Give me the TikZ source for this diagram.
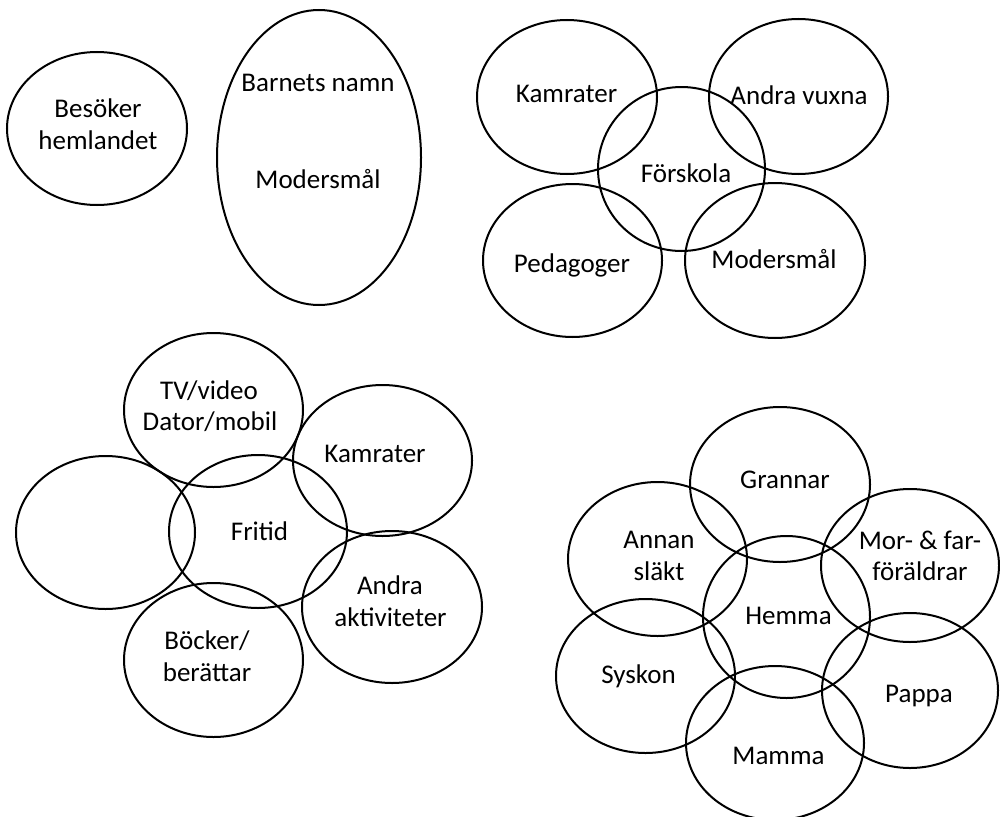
\documentclass[tikz,border=0pt]{standalone}
\usepackage{fontspec}
\setmainfont{Carlito}
\begin{document}
\begin{tikzpicture}[x=1pt,y=-1pt,
  ring/.style={line width=2pt},
  lbl/.style={anchor=base, font=\fontsize{27}{33}\selectfont, inner sep=0pt}]
\useasboundingbox (0,0) rectangle (1000,816);
\clip (0,0) rectangle (1000,816);
% top left
\draw[ring] (97,128.5) ellipse [x radius=90, y radius=76.5];
\draw[ring] (319,157.5) ellipse [x radius=102, y radius=147.5];
\node[lbl] (besoker) at (98,117) {Besöker};
\node[lbl] (hemlandet) at (98,149) {hemlandet};
\node[lbl] (barnets) at (318,91) {Barnets namn};
\node[lbl] (modersmal1) at (318,188) {Modersmål};
% Förskola cluster
\draw[ring] (567,97) ellipse [x radius=90, y radius=77];
\draw[ring] (798.5,96.5) ellipse [x radius=89.5, y radius=77.5];
\draw[ring] (681.5,169) ellipse [x radius=83.5, y radius=82];
\draw[ring] (572.5,260.5) ellipse [x radius=89.5, y radius=76.5];
\draw[ring] (775,260.5) ellipse [x radius=90, y radius=77.5];
\node[lbl] (kamrater1) at (566.5,102) {Kamrater};
\node[lbl] (vuxna) at (799,104) {Andra vuxna};
\node[lbl] (forskola) at (686,182) {Förskola};
\node[lbl] (pedagoger) at (572,272) {Pedagoger};
\node[lbl] (modersmal2) at (774,268) {Modersmål};
% Fritid cluster
\draw[ring] (213.5,410) ellipse [x radius=89.5, y radius=77];
\draw[ring] (382.5,460.5) ellipse [x radius=89.5, y radius=75.5];
\draw[ring] (105.5,532.5) ellipse [x radius=89.5, y radius=76.5];
\draw[ring] (258,531.5) ellipse [x radius=89, y radius=76.5];
\draw[ring] (392,607) ellipse [x radius=90, y radius=76];
\draw[ring] (213.5,660) ellipse [x radius=89.5, y radius=77];
\node[lbl] (tv) at (209,399) {TV/video};
\node[lbl] (dator) at (210,430) {Dator/mobil};
\node[lbl] (kamrater2) at (375,462) {Kamrater};
\node[lbl] (fritid) at (259.5,540) {Fritid};
\node[lbl] (andra) at (390,594) {Andra};
\node[lbl] (aktiviteter) at (390.5,626) {aktiviteter};
\node[lbl] (bocker) at (207,649) {Böcker/};
\node[lbl] (berattar) at (207,681) {berättar};
% Hemma cluster
\draw[ring] (780,484.5) ellipse [x radius=90, y radius=77.5];
\draw[ring] (657.5,559) ellipse [x radius=89.5, y radius=77];
\draw[ring] (910,565.5) ellipse [x radius=89, y radius=76.5];
\draw[ring] (786.5,617) ellipse [x radius=83.5, y radius=81];
\draw[ring] (645.5,676) ellipse [x radius=89.5, y radius=77];
\draw[ring] (910,690.5) ellipse [x radius=88, y radius=77.5];
\draw[ring] (775,743) ellipse [x radius=89, y radius=77];
\node[lbl] (grannar) at (785,488) {Grannar};
\node[lbl] (annan) at (659,548) {Annan};
\node[lbl] (slakt) at (659,580) {släkt};
\node[lbl] (morfar) at (920,549) {Mor- \& far-};
\node[lbl] (foraldrar) at (920,580) {föräldrar};
\node[lbl] (hemma) at (788.5,624) {Hemma};
\node[lbl] (syskon) at (638.5,683) {Syskon};
\node[lbl] (pappa) at (919,702) {Pappa};
\node[lbl] (mamma) at (778.5,764) {Mamma};
\end{tikzpicture}
\end{document}
